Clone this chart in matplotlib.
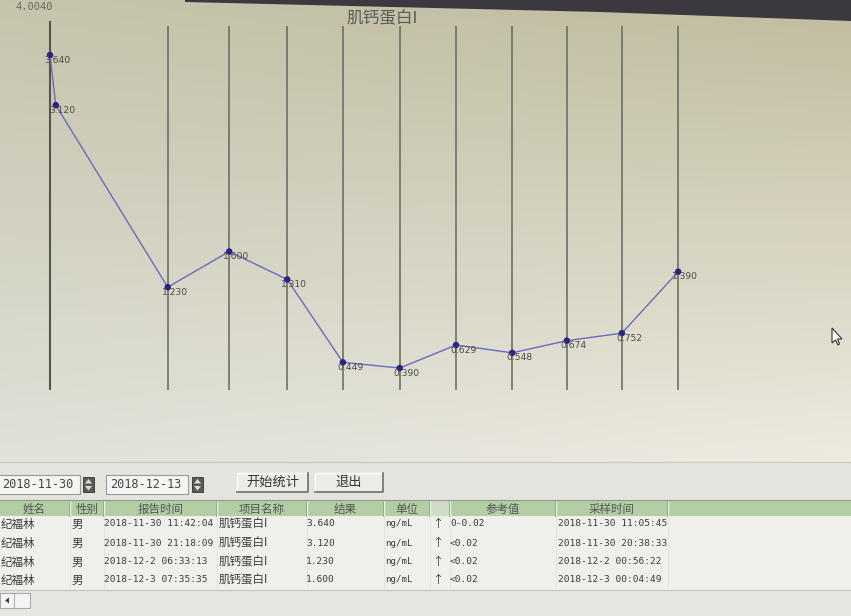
import numpy as np
import matplotlib
matplotlib.use("Agg")
import matplotlib.pyplot as plt
from matplotlib.patches import Rectangle, Polygon

# ---------------- data ----------------
title = "肌钙蛋白I"
y_max_label = "4.0040"
y_max = 4.004
# sample position (days after first sample)
sample_day = [0.0, 0.10, 2.03, 3.09, 4.09, 5.05, 6.03, 7.00, 7.97, 8.91, 9.86, 10.83]
values = [3.640, 3.120, 1.230, 1.600, 1.310, 0.449, 0.390, 0.629, 0.548, 0.674, 0.752, 1.390]
value_labels = ["3.640", "3.120", "1.230", "1.600", "1.310", "0.449", "0.390",
                "0.629", "0.548", "0.674", "0.752", "1.390"]
gridline_idx = [0, 2, 3, 4, 5, 6, 7, 8, 9, 10, 11]

date_from = "2018-11-30"
date_to = "2018-12-13"
btn_labels = ["开始统计", "退出"]

headers = ["姓名", "性别", "报告时间", "项目名称", "结果", "单位", "", "参考值", "采样时间"]
col_name = ["纪福林", "纪福林", "纪福林", "纪福林"]
col_sex = ["男", "男", "男", "男"]
col_report = ["2018-11-30 11:42:04", "2018-11-30 21:18:09", "2018-12-2 06:33:13", "2018-12-3 07:35:35"]
col_item = ["肌钙蛋白I", "肌钙蛋白I", "肌钙蛋白I", "肌钙蛋白I"]
col_result = ["3.640", "3.120", "1.230", "1.600"]
col_unit = ["ng/mL", "ng/mL", "ng/mL", "ng/mL"]
col_flag = ["↑", "↑", "↑", "↑"]
col_ref = ["0-0.02", "<0.02", "<0.02", "<0.02"]
col_sample = ["2018-11-30 11:05:45", "2018-11-30 20:38:33", "2018-12-2 00:56:22", "2018-12-3 00:04:49"]

# ---------------- figure ----------------
W, H = 851, 616
fig = plt.figure(figsize=(W / 100, H / 100), dpi=100)
fig.patch.set_facecolor("#e6e6e2")

CJK = ["Noto Sans CJK SC", "DejaVu Sans"]
MONO = ["DejaVu Sans Mono", "Noto Sans CJK SC"]

# background / UI layer in pixel coordinates
bg = fig.add_axes([0, 0, 1, 1])
bg.set_xlim(0, W)
bg.set_ylim(H, 0)
bg.axis("off")

# chart panel gradient
chart_bottom = 462
tl = np.array([198, 196, 172]) / 255
tr = np.array([192, 188, 158]) / 255
bl = np.array([224, 225, 217]) / 255
br = np.array([238, 234, 224]) / 255
u = np.linspace(0, 1, 200)[None, :, None]
v = np.linspace(0, 1, 120)[:, None, None]
grad = (1 - v) * ((1 - u) * tl + u * tr) + v * ((1 - u) * bl + u * br)
bg.imshow(grad, extent=[0, W, chart_bottom, 0], aspect="auto", zorder=0)

# dark bezel strip at top right
bg.add_patch(Polygon([[185, 0], [W, 0], [W, 21], [600, 12], [185, 2]],
                     closed=True, facecolor="#3c3840", edgecolor="none", zorder=1))

# toolbar area
bg.add_patch(Rectangle((0, chart_bottom), W, 38, facecolor="#e4e4df", edgecolor="none", zorder=1))
bg.plot([0, W], [chart_bottom, chart_bottom], color="#c8c8c0", lw=0.8, zorder=2)

# date boxes
for x0, x1, txt, sx in [(-2, 80, date_from, 83), (106, 188, date_to, 192)]:
    bg.add_patch(Rectangle((x0, 475), x1 - x0, 19, facecolor="#f4f4f2", edgecolor="#9a9a96", lw=0.8, zorder=2))
    bg.text(x0 + 4, 485, txt, fontsize=8.6, family=MONO, color="#444444", va="center", ha="left", zorder=3)
    bg.add_patch(Rectangle((sx, 477), 11, 15, facecolor="#5a5a5a", edgecolor="#333333", lw=0.6, zorder=2))
    bg.add_patch(Polygon([[sx + 2, 483.5], [sx + 9, 483.5], [sx + 5.5, 479]], facecolor="#dddddd", edgecolor="none", zorder=3))
    bg.add_patch(Polygon([[sx + 2, 486], [sx + 9, 486], [sx + 5.5, 490.5]], facecolor="#dddddd", edgecolor="none", zorder=3))

# buttons
for (x0, x1), lab in zip([(237, 308), (315, 383)], btn_labels):
    bg.add_patch(Rectangle((x0, 473), x1 - x0, 19, facecolor="#ebebe8", edgecolor="none", zorder=2))
    bg.plot([x0, x0, x1], [492, 473, 473], color="#fafafa", lw=1.0, zorder=3)
    bg.plot([x0, x1, x1], [492, 492, 473], color="#6e6e6a", lw=1.2, zorder=3)
    bg.text((x0 + x1) / 2, 482.5, lab, fontsize=9.5, family=CJK, color="#333333",
            ha="center", va="center", zorder=4)

# table
hdr_top, hdr_bot = 500, 516
col_edges = [-2, 70, 104, 217, 307, 384, 430, 450, 556, 668]
bg.add_patch(Rectangle((0, hdr_top), W, hdr_bot - hdr_top, facecolor="#b3cda5", edgecolor="none", zorder=2))
bg.add_patch(Rectangle((430, hdr_top), 20, hdr_bot - hdr_top, facecolor="#cfdcc8", edgecolor="none", zorder=2))
for xe in col_edges[1:]:
    bg.plot([xe, xe], [hdr_top, hdr_bot], color="#e8efe4", lw=1.0, zorder=3)
    bg.plot([xe - 1.2, xe - 1.2], [hdr_top, hdr_bot], color="#8da486", lw=0.6, zorder=3)
bg.plot([0, W], [hdr_top, hdr_top], color="#8f9a88", lw=0.8, zorder=3)
for i, h in enumerate(headers):
    if h:
        cx = (col_edges[i] + col_edges[i + 1]) / 2
        bg.text(cx, 509, h, fontsize=8.3, family=CJK, color="#555555", ha="center", va="center", zorder=4)

bg.add_patch(Rectangle((0, hdr_bot), 668, 74, facecolor="#efefeb", edgecolor="none", zorder=2))
bg.add_patch(Rectangle((668, hdr_bot), W - 668, 74, facecolor="#f1efea", edgecolor="none", zorder=2))
for xe in col_edges[1:]:
    bg.plot([xe, xe], [hdr_bot, 590], color="#e2e2dc", lw=0.6, zorder=3)
bg.plot([0, W], [590, 590], color="#c4c4bc", lw=0.8, zorder=3)

row_y = [524, 543, 562, 580]
cols = [(col_name, 1, CJK, 8.3), (col_sex, 72, CJK, 8.3), (col_report, 104, MONO, 6.8),
        (col_item, 219, CJK, 8.3), (col_result, 306, MONO, 6.8), (col_unit, 385, MONO, 6.6),
        (col_flag, 432, CJK, 8.0), (col_ref, 450, MONO, 6.8), (col_sample, 558, MONO, 6.8)]
for data, x0, fam, fs in cols:
    for yy, t in zip(row_y, data):
        bg.text(x0, yy, t, fontsize=fs, family=fam, color="#3c3c3c", ha="left", va="center", zorder=4)

# scroll bar
bg.add_patch(Rectangle((0, 593), 30, 15, facecolor="#f4f4f2", edgecolor="#a8a8a4", lw=0.8, zorder=3))
bg.add_patch(Polygon([[5, 600.5], [9, 597.5], [9, 603.5]], facecolor="#444444", edgecolor="none", zorder=4))
bg.plot([14, 14], [594, 607], color="#b0b0ac", lw=0.8, zorder=4)

# mouse cursor
bg.add_patch(Polygon([[832, 328], [832, 343], [835.5, 340], [838, 345], [839.5, 344], [837.5, 339], [842, 339]],
                     closed=True, facecolor="#ffffff", edgecolor="#333333", lw=0.8, zorder=5))

# ---------------- chart axes ----------------
px_per_day = 58.0
x0_px = 50.0
y0_px = 405.6
px_per_unit = 96.3
ax_top_px, ax_bot_px = 0.0, 460.0
ax = fig.add_axes([0, 1 - ax_bot_px / H, 1, (ax_bot_px - ax_top_px) / H])
ax.set_facecolor("none")
ax.set_xlim(-x0_px / px_per_day, (W - x0_px) / px_per_day)
ax.set_ylim(-(ax_bot_px - y0_px) / px_per_unit, (y0_px - ax_top_px) / px_per_unit)
ax.axis("off")

grid_x = [sample_day[i] for i in gridline_idx]
ax.vlines(grid_x[:1], 0.16, y_max - 0.01, color="#55554c", lw=1.5, zorder=2)
ax.vlines(grid_x[1:], 0.16, y_max - 0.06, color="#66665e", lw=1.1, zorder=2)

ax.plot(sample_day, values, color="#6a6ac0", lw=1.0, zorder=3)
ax.scatter(sample_day, values, s=22, color="#2c2285", zorder=4, edgecolors="none")
for xd, yv, lab in zip(sample_day, values, value_labels):
    ax.annotate(lab, (xd, yv), xytext=(-6, -5), textcoords="offset pixels",
                fontsize=6.6, family=["DejaVu Sans"], color="#4a4a46", ha="left", va="center", zorder=5)

fig.text(15 / W, 1 - 7 / H, y_max_label, fontsize=7.5,
         family=["DejaVu Sans Mono"], color="#6a6a64", ha="left", va="center")
fig.text(382 / W, 1 - 19 / H, title, fontsize=12, family=CJK, color="#5a5a56", ha="center", va="center")

fig.savefig("out.png", dpi=100, facecolor=fig.get_facecolor())
